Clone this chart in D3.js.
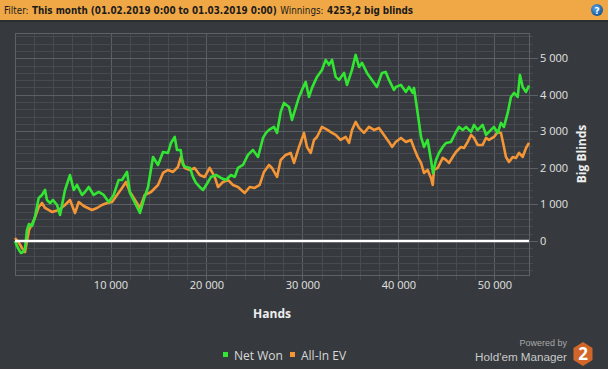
<!DOCTYPE html>
<html><head><meta charset="utf-8">
<script src="https://cdn.jsdelivr.net/npm/d3@7"></script>
<style>
html,body{margin:0;padding:0;background:#363a3e;overflow:hidden}
svg{display:block}
</style></head>
<body>
<svg id="chart" width="608" height="369"></svg>
<script>
// ---------------- data ----------------
const seriesNames = ["Net Won", "All-In EV"];
const seriesColors = ["#33e533", "#f49536"];

const netWonHands = [50,260,470,680,880,1090,1300,1510,1820,2130,2520,2860,3180,3380,3700,4010,4430,4740,4950,5260,5780,6170,6510,7030,7340,7730,8250,8770,9290,9810,10330,10850,11200,11720,12030,12550,13070,13560,13910,14430,14950,15470,15990,16300,16690,16930,17310,17550,17860,18280,18590,18910,19290,19640,20160,20470,20990,21510,22030,22550,22940,23280,23800,24320,24840,25370,25890,26200,26510,27030,27350,27730,28070,28600,28910,29290,29640,29950,30340,30680,30990,31510,32030,32420,32760,33080,33460,33800,34330,34640,35160,35540,35890,36200,36720,37240,37760,38280,38670,39010,39530,39740,40260,40780,41100,41480,41620,42000,42350,42660,43040,43390,43600,43910,44220,44610,44950,45470,45990,46310,46690,47040,47560,47870,48250,48770,49120,49640,49950,50340,50680,50990,51380,51720,52040,52420,52660,52940,53290,53600];
const netWonBB = [0,-137,-246,-328,-301,-219,301,465,411,657,1177,1259,1396,1122,1040,1122,985,712,985,1396,1806,1396,1533,1259,1341,1478,1259,1341,1259,1067,1259,1670,1670,1889,1314,1040,766,1204,1478,2299,2080,2436,2409,2682,2846,2491,2491,2080,2025,1998,1752,1587,1478,1396,1615,1752,1806,1724,1670,1806,1752,1998,2080,2354,2491,2299,2819,2956,3038,3120,2956,3531,3777,3668,3312,3640,3941,4133,4352,3941,4188,4489,4680,4954,4817,4954,4489,4407,4598,4270,4680,5091,4762,4872,4598,4407,4215,4598,4626,4407,4133,4215,4270,4078,4215,4051,4188,3503,2846,2573,2764,2217,1861,2217,2409,2573,2682,2710,2983,3120,3038,3120,2983,3175,3038,3175,2901,3038,3120,2956,3230,3120,3503,3941,4051,3941,4543,4215,4078,4253];

const allInHands = [50,470,780,1090,1510,2030,2520,2860,3180,3900,4600,5260,5780,6300,6690,7210,8070,8590,9110,9630,10160,10680,11200,11610,12030,12550,13070,13560,14220,14950,15470,15990,16510,17030,17340,17730,18280,18770,19290,19810,20330,20860,21200,21720,22240,22760,23280,23980,24500,25020,25540,25990,26510,26820,27350,27730,28250,28770,29120,29640,30160,30470,30860,31200,31510,32030,32600,33080,33460,33980,34500,34850,35160,35540,35890,36410,36930,37450,37970,38490,39010,39330,39710,40260,40780,41310,41620,42000,42350,42660,43040,43390,43570,43700,44090,44610,44950,45260,45650,45990,46520,46830,47210,47560,47870,48250,48770,49120,49430,49950,50340,50680,50990,51200,51520,51900,52240,52560,52940,53290,53600];
const allInBB = [82,-55,-192,-301,301,575,931,1040,903,794,848,985,1122,766,1067,958,848,903,985,1040,1067,1259,1451,1615,1341,1122,903,1259,1341,1533,1861,1943,1889,2025,2299,1998,1943,1998,1806,1752,1998,1752,1478,1615,1670,1533,1478,1314,1478,1451,1533,1889,2080,1998,1752,2217,2354,2409,2135,2573,2956,2573,2409,2764,2846,3120,3038,2956,2901,2764,2846,2682,3038,3257,3093,2956,3120,3038,3093,2901,2710,2573,2710,2819,2710,2764,2545,2299,2135,1861,1943,1724,1533,1943,1998,2272,2217,2135,2299,2436,2573,2545,2710,2901,2819,2628,2628,2819,2764,2846,2983,2956,2573,2299,2162,2299,2272,2409,2299,2545,2682];

const xTickValues = [10000, 20000, 30000, 40000, 50000];
const yTickValues = [0, 1000, 2000, 3000, 4000, 5000];
const xMinorStep = 2000;
const yMinorStep = 200;

const headerParts = [
  {text: "Filter:", bold: false},
  {text: "This month (01.02.2019 0:00 to 01.03.2019 0:00)", bold: true},
  {text: "Winnings:", bold: false},
  {text: "4253,2 big blinds", bold: true}
];

// ---------------- layout ----------------
const svg = d3.select("#chart");
const W = 608, H = 369;
const plot = {left: 15, right: 529, top: 33, bottom: 275};

const x = d3.scaleLinear().domain([50, 53600]).range([plot.left, plot.right]);
const y = d3.scaleLinear().domain([-930, 5690]).range([plot.bottom, plot.top]);

const loc = d3.formatLocale({decimal: ",", thousands: " ", grouping: [3], currency: ["", ""]});
const fmt = loc.format(",d");

svg.append("rect").attr("width", W).attr("height", H).attr("fill", "#363a3e");

// header
svg.append("rect").attr("x", 0).attr("y", 0).attr("width", W).attr("height", 20).attr("fill", "#f0a846");
svg.append("rect").attr("x", 0).attr("y", 20).attr("width", W).attr("height", 2).attr("fill", "#2b2e31");
let hx = 4;
headerParts.forEach(p => {
  const t = svg.append("text").attr("x", hx).attr("y", 14)
    .attr("font-family", "'DejaVu Sans Condensed', 'DejaVu Sans', sans-serif")
    .attr("font-size", 9.8).attr("fill", "#1b1b1b")
    .attr("font-weight", p.bold ? "bold" : "normal").text(p.text);
  hx += t.node().getComputedTextLength() + 3.5;
});

// help icon
const hg = svg.append("g").attr("transform", "translate(597,10)");
const grad = svg.append("defs").append("radialGradient").attr("id", "hb").attr("cx", "40%").attr("cy", "35%").attr("r", "70%");
grad.append("stop").attr("offset", "0%").attr("stop-color", "#5aa8e8");
grad.append("stop").attr("offset", "100%").attr("stop-color", "#0d4f94");
hg.append("circle").attr("r", 6).attr("fill", "url(#hb)");
hg.append("text").attr("y", 3.5).attr("text-anchor", "middle").attr("font-family", "'DejaVu Sans', sans-serif")
  .attr("font-weight", "bold").attr("font-size", 9).attr("fill", "#fff").text("?");

// grid
const grid = svg.append("g");
const xMinor = d3.range(0, 53600, xMinorStep).filter(v => v >= 50);
const yMinor = d3.range(-800, 5690, yMinorStep);
grid.selectAll(".xm").data(xMinor).join("line")
  .attr("x1", d => Math.round(x(d)) + 0.5).attr("x2", d => Math.round(x(d)) + 0.5)
  .attr("y1", plot.top).attr("y2", plot.bottom + 5)
  .attr("stroke", d => d % 10000 === 0 ? "#5c6064" : "#474b4f").attr("stroke-width", 1);
grid.selectAll(".ym").data(yMinor).join("line")
  .attr("y1", d => Math.round(y(d)) + 0.5).attr("y2", d => Math.round(y(d)) + 0.5)
  .attr("x1", plot.left).attr("x2", d => plot.right + (d % 1000 === 0 ? 9 : 4))
  .attr("stroke", d => d % 1000 === 0 ? "#5c6064" : "#474b4f").attr("stroke-width", 1);
svg.append("rect").attr("x", plot.left + 0.5).attr("y", plot.top + 0.5)
  .attr("width", plot.right - plot.left).attr("height", plot.bottom - plot.top)
  .attr("fill", "none").attr("stroke", "#5e6266");

// axes (labels)
const xAxis = d3.axisBottom(x).tickValues(xTickValues).tickFormat(fmt).tickSize(0).tickPadding(0);
const gx = svg.append("g").attr("transform", `translate(0,${plot.bottom + 6})`).call(xAxis);
gx.select(".domain").remove();
gx.selectAll("text").attr("font-family", "'Open Sans', sans-serif").attr("font-size", 11)
  .attr("fill", "#e2e2e2").attr("dy", "0.71em");

const yAxis = d3.axisRight(y).tickValues(yTickValues).tickFormat(fmt).tickSize(0).tickPadding(0);
const gy = svg.append("g").attr("transform", `translate(${plot.right + 11},0)`).call(yAxis);
gy.select(".domain").remove();
gy.selectAll("text").attr("font-family", "'Open Sans', sans-serif").attr("font-size", 11)
  .attr("fill", "#e2e2e2");

svg.append("text").attr("x", 272).attr("y", 318).attr("text-anchor", "middle")
  .attr("font-family", "'Open Sans', sans-serif").attr("font-weight", "bold").attr("font-size", 12)
  .attr("fill", "#eeeeee").text("Hands");
svg.append("text").attr("transform", "translate(586,154) rotate(-90)").attr("text-anchor", "middle")
  .attr("font-family", "'Open Sans', sans-serif").attr("font-weight", "bold").attr("font-size", 12)
  .attr("fill", "#eeeeee").text("Big Blinds");

// series
const line = d3.line().x(d => x(d[0])).y(d => y(d[1]));
const allIn = d3.zip(allInHands, allInBB);
const net = d3.zip(netWonHands, netWonBB);
svg.append("path").datum(allIn).attr("d", line).attr("fill", "none")
  .attr("stroke", seriesColors[1]).attr("stroke-width", 2.6).attr("stroke-linejoin", "round");
svg.append("path").datum(net).attr("d", line).attr("fill", "none")
  .attr("stroke", seriesColors[0]).attr("stroke-width", 2.6).attr("stroke-linejoin", "round");

// zero line (drawn over the series)
svg.append("line").attr("x1", plot.left).attr("x2", plot.right).attr("y1", y(0)).attr("y2", y(0))
  .attr("stroke", "#ffffff").attr("stroke-width", 2.5);

// legend
const leg = svg.append("g").attr("font-family", "'Open Sans', sans-serif").attr("font-size", 12).attr("fill", "#d8d8d8");
const legX = [223, 290];
seriesNames.forEach((n, i) => {
  leg.append("rect").attr("x", legX[i]).attr("y", 352).attr("width", 5).attr("height", 5).attr("fill", seriesColors[i]);
  leg.append("text").attr("x", legX[i] + 11).attr("y", 360).text(n);
});

// branding
svg.append("text").attr("x", 567).attr("y", 346).attr("text-anchor", "end")
  .attr("font-family", "'Liberation Sans', Arial, sans-serif").attr("font-size", 9).attr("fill", "#a8a8a8").text("Powered by");
svg.append("text").attr("x", 567).attr("y", 361).attr("text-anchor", "end")
  .attr("font-family", "'Liberation Sans', Arial, sans-serif").attr("font-size", 11.7).attr("fill", "#c8c8c8").text("Hold'em Manager");
const hex = d3.range(6).map(k => {
  const a = Math.PI / 3 * k - Math.PI / 2;
  return [583 + 11 * Math.cos(a), 354 + 12 * Math.sin(a)];
});
svg.append("polygon").attr("points", hex.map(p => p.join(",")).join(" ")).attr("fill", "#d2652a");
svg.append("text").attr("x", 583).attr("y", 360).attr("text-anchor", "middle")
  .attr("font-family", "'Open Sans', sans-serif").attr("font-weight", "bold").attr("font-size", 17)
  .attr("fill", "#ffffff").text("2");
</script>
</body></html>
